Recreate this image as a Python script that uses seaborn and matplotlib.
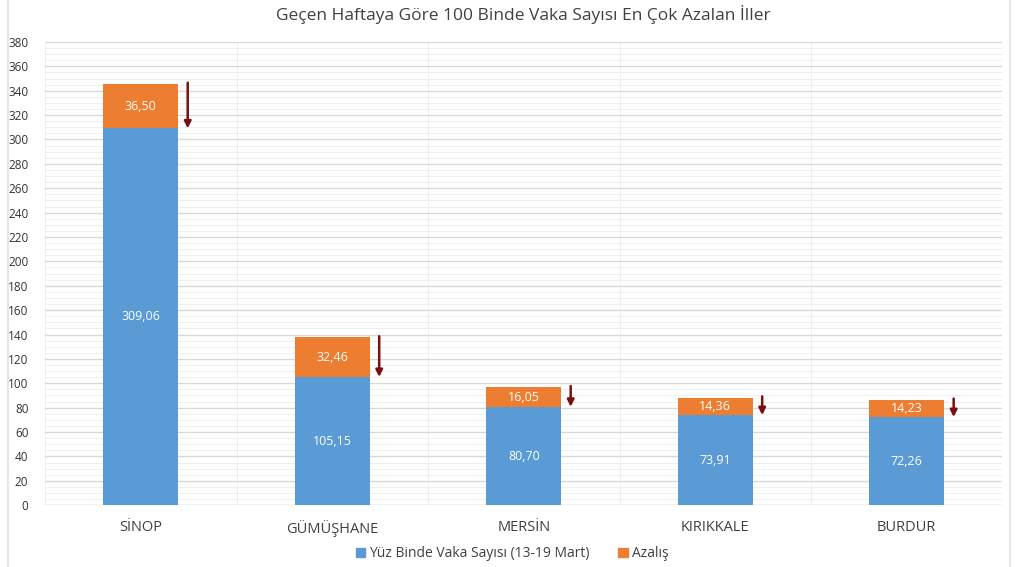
import numpy as np
import pandas as pd
import matplotlib
matplotlib.use("Agg")
import matplotlib.pyplot as plt
import seaborn as sns
from matplotlib.ticker import MultipleLocator

sns.set_style("white")
plt.rcParams['font.family'] = ['Open Sans', 'DejaVu Sans']

# data
iller = ["SİNOP", "GÜMÜŞHANE", "MERSİN", "KIRIKKALE", "BURDUR"]
vaka = [309.06, 105.15, 80.70, 73.91, 72.26]
azalis = [36.50, 32.46, 16.05, 14.36, 14.23]

blue = "#5B9BD5"
orange = "#ED7D31"
arrow_col = "#7A0F12"

df = pd.DataFrame({"il": iller, "vaka": vaka, "azalis": azalis})
df["toplam"] = df["vaka"] + df["azalis"]

fig = plt.figure(figsize=(10.24, 5.67), dpi=100)
ax = fig.add_axes([0.044, 0.109, 0.935, 0.817])

# stacked: total in orange, base in blue on top of it
sns.barplot(data=df, x="il", y="toplam", color=orange, width=0.39,
            saturation=1, ax=ax, linewidth=0, zorder=3)
sns.barplot(data=df, x="il", y="vaka", color=blue, width=0.39,
            saturation=1, ax=ax, linewidth=0, zorder=3)

for i, row in df.iterrows():
    ax.text(i, row["vaka"] / 2, f"{row['vaka']:.2f}".replace(".", ","),
            ha="center", va="center", color="white", fontsize=9, zorder=4)
    ax.text(i, row["vaka"] + row["azalis"] / 2, f"{row['azalis']:.2f}".replace(".", ","),
            ha="center", va="center", color="white", fontsize=9, zorder=4)
    ax.annotate("", xy=(i + 0.245, row["vaka"]), xytext=(i + 0.245, row["toplam"] + 1),
                arrowprops=dict(arrowstyle="-|>", color=arrow_col, lw=1.8,
                                mutation_scale=10, shrinkA=0, shrinkB=0),
                zorder=5)

ax.set_xlim(-0.5, 4.5)
ax.set_ylim(0, 380)
ax.yaxis.set_major_locator(MultipleLocator(20))
ax.yaxis.set_minor_locator(MultipleLocator(5))
ax.xaxis.set_minor_locator(MultipleLocator(0.5))
ax.grid(axis="y", which="major", color="#d9d9d9", lw=1.0, zorder=0)
ax.grid(axis="y", which="minor", color="#eeeeee", lw=0.7, zorder=0)
ax.grid(axis="x", which="minor", color="#efefef", lw=0.7, zorder=0)
ax.set_axisbelow(True)
for s in ax.spines.values():
    s.set_visible(False)
ax.axhline(0, color="#d9d9d9", lw=1.0, zorder=2)

ax.tick_params(axis="y", which="both", length=0, labelsize=8.5, labelcolor="#333333", pad=12)
ax.tick_params(axis="x", which="both", length=0, labelsize=10.5, labelcolor="#404040", pad=11)
ax.set_xlabel("")
ax.set_ylabel("")

ax.set_title("Geçen Haftaya Göre 100 Binde Vaka Sayısı En Çok Azalan İller",
             fontsize=12.5, color="#404040", pad=16)

handles = [plt.Rectangle((0, 0), 1, 1, color=blue), plt.Rectangle((0, 0), 1, 1, color=orange)]
fig.legend(handles, ["Yüz Binde Vaka Sayısı (13-19 Mart)", "Azalış"], loc="lower center",
           bbox_to_anchor=(0.5, -0.012), ncol=2, frameon=False, fontsize=10,
           handlelength=0.7, handleheight=0.7, handletextpad=0.3, columnspacing=2.0,
           labelcolor="#404040")

# faint outer frame like the source sheet
fig.add_artist(plt.Line2D([0.008, 0.008], [0, 1], color="#e6e6e6", lw=1.5))
fig.add_artist(plt.Line2D([0.986, 0.986], [0, 1], color="#e6e6e6", lw=1.5))

fig.savefig("out.png", dpi=100)
